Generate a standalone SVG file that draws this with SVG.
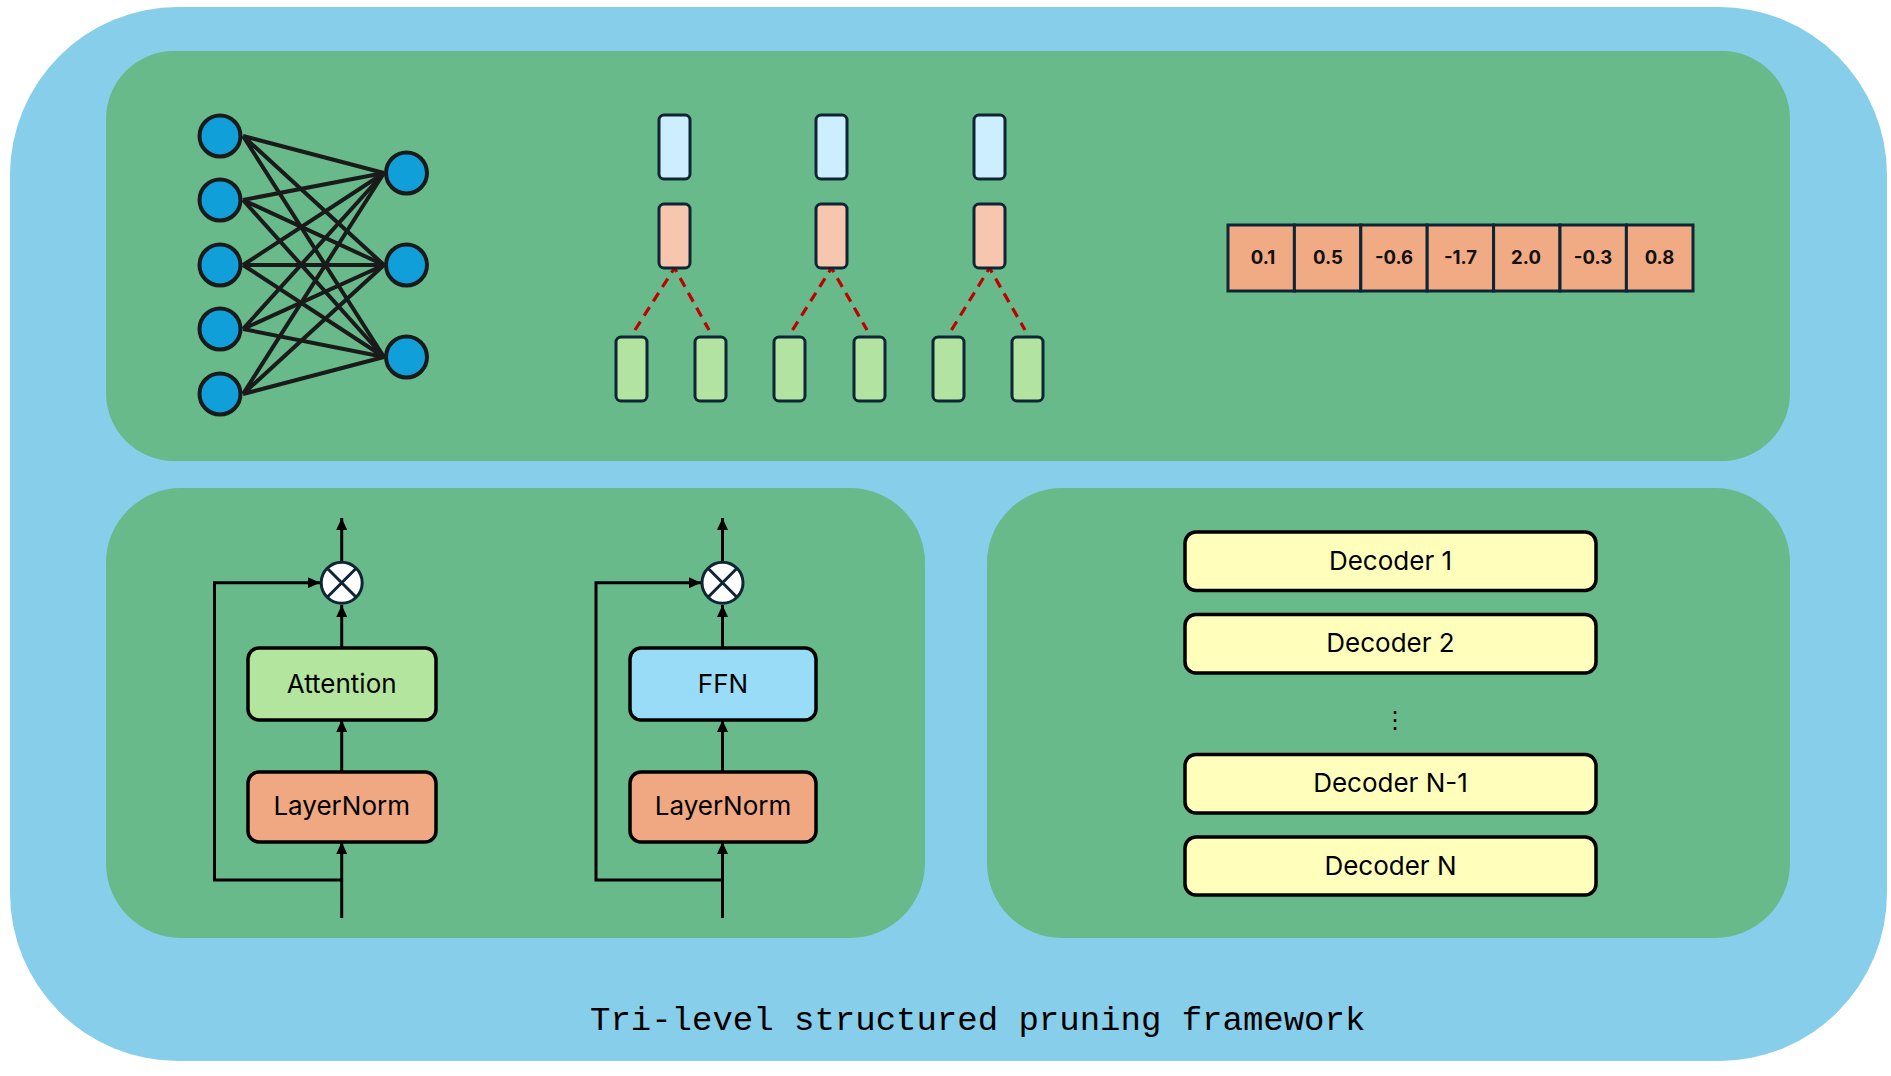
<svg xmlns="http://www.w3.org/2000/svg" width="1891" height="1076" viewBox="0 0 1891 1076">
<defs>
<marker id="ah" viewBox="0 0 12 11" refX="12" refY="5.5" markerWidth="12" markerHeight="11" markerUnits="userSpaceOnUse" orient="auto">
<path d="M0,0 L12,5.5 L0,11 z" fill="#000"/>
</marker>
</defs>
<style>
.panel{fill:#68BA8A}
.nn{fill:#109FD8;stroke:#1a1a1a;stroke-width:4}
.nl{stroke:#1a1a1a;stroke-width:4;fill:none}
.pr{stroke:#0f2536;stroke-width:3}
.blue{fill:#CCEEFF}
.org{fill:#F6C6AE}
.grn{fill:#B3E3A0}
.dash{stroke:#C00000;stroke-width:3.2;stroke-dasharray:10 7;fill:none}
.cell{fill:#F0AA84;stroke:#0f2536;stroke-width:3}
.val{font-family:Inter,"Liberation Sans",sans-serif;font-weight:700;font-size:18.5px;fill:#111;text-anchor:middle}
.box{stroke:#000;stroke-width:3.5}
.lbl{font-family:Inter,"Liberation Sans",sans-serif;font-size:26px;fill:#000;text-anchor:middle}
.conn{stroke:#000;stroke-width:3;fill:none}
.mul{fill:#fff;stroke:#0f2536;stroke-width:3}
.mulx{stroke:#0f2536;stroke-width:3}
.dec{fill:#FFFFBB;stroke:#000;stroke-width:3.5}
</style>
<rect x="10" y="7" width="1877" height="1054" rx="168" ry="168" fill="#87CEEA"/>
<rect class="panel" x="106" y="51" width="1684" height="410" rx="68" ry="68"/>
<rect class="panel" x="106" y="488" width="819" height="450" rx="75" ry="75"/>
<rect class="panel" x="987" y="488" width="803" height="450" rx="75" ry="75"/>

<g id="neural-net">
<g class="nl">
<path d="M243,136 L384,173 M243,136 L384,265 M243,136 L384,357"/>
<path d="M243,200 L384,173 M243,200 L384,265 M243,200 L384,357"/>
<path d="M243,265 L384,173 M243,265 L384,265 M243,265 L384,357"/>
<path d="M243,329 L384,173 M243,329 L384,265 M243,329 L384,357"/>
<path d="M243,394 L384,173 M243,394 L384,265 M243,394 L384,357"/>
</g>
<circle class="nn" cx="220" cy="136" r="20.5"/>
<circle class="nn" cx="220" cy="200" r="20.5"/>
<circle class="nn" cx="220" cy="265" r="20.5"/>
<circle class="nn" cx="220" cy="329" r="20.5"/>
<circle class="nn" cx="220" cy="394" r="20.5"/>
<circle class="nn" cx="406.5" cy="173" r="20.5"/>
<circle class="nn" cx="406.5" cy="265" r="20.5"/>
<circle class="nn" cx="406.5" cy="357" r="20.5"/>
</g>

<g id="head-groups">
<g id="group1">
<path class="dash" d="M635,330 L674.5,268 L709,330"/>
<rect class="pr blue" x="659" y="115" width="31" height="64" rx="5"/>
<rect class="pr org" x="659" y="204" width="31" height="64" rx="5"/>
<rect class="pr grn" x="616" y="337" width="31" height="64" rx="5"/>
<rect class="pr grn" x="695" y="337" width="31" height="64" rx="5"/>
</g>
<g id="group2">
<path class="dash" d="M792.5,330 L831.5,268 L867,330"/>
<rect class="pr blue" x="816" y="115" width="31" height="64" rx="5"/>
<rect class="pr org" x="816" y="204" width="31" height="64" rx="5"/>
<rect class="pr grn" x="774" y="337" width="31" height="64" rx="5"/>
<rect class="pr grn" x="854" y="337" width="31" height="64" rx="5"/>
</g>
<g id="group3">
<path class="dash" d="M951.5,330 L989.5,268 L1025,330"/>
<rect class="pr blue" x="974" y="115" width="31" height="64" rx="5"/>
<rect class="pr org" x="974" y="204" width="31" height="64" rx="5"/>
<rect class="pr grn" x="933" y="337" width="31" height="64" rx="5"/>
<rect class="pr grn" x="1012" y="337" width="31" height="64" rx="5"/>
</g>
</g>

<g id="value-array">
<rect class="cell" x="1228" y="225" width="66.4" height="66"/>
<rect class="cell" x="1294.4" y="225" width="66.4" height="66"/>
<rect class="cell" x="1360.8" y="225" width="66.4" height="66"/>
<rect class="cell" x="1427.2" y="225" width="66.4" height="66"/>
<rect class="cell" x="1493.6" y="225" width="66.4" height="66"/>
<rect class="cell" x="1560" y="225" width="66.4" height="66"/>
<rect class="cell" x="1626.4" y="225" width="66.6" height="66"/>
<text class="val" x="1263" y="264">0.1</text>
<text class="val" x="1328" y="264">0.5</text>
<text class="val" x="1394" y="264">-0.6</text>
<text class="val" x="1460.5" y="264">-1.7</text>
<text class="val" x="1526" y="264">2.0</text>
<text class="val" x="1593" y="264">-0.3</text>
<text class="val" x="1659.5" y="264">0.8</text>
</g>

<g id="connectors">
<line class="conn" x1="341.7" y1="561" x2="341.7" y2="518" marker-end="url(#ah)"/>
<line class="conn" x1="341.7" y1="648" x2="341.7" y2="605" marker-end="url(#ah)"/>
<line class="conn" x1="341.7" y1="772" x2="341.7" y2="720" marker-end="url(#ah)"/>
<line class="conn" x1="341.7" y1="918" x2="341.7" y2="842" marker-end="url(#ah)"/>
<path class="conn" d="M341.7,880 H214.5 V582.7 H320" marker-end="url(#ah)"/>
<line class="conn" x1="722.5" y1="561" x2="722.5" y2="518" marker-end="url(#ah)"/>
<line class="conn" x1="722.5" y1="648" x2="722.5" y2="605" marker-end="url(#ah)"/>
<line class="conn" x1="722.5" y1="772" x2="722.5" y2="720" marker-end="url(#ah)"/>
<line class="conn" x1="722.5" y1="918" x2="722.5" y2="842" marker-end="url(#ah)"/>
<path class="conn" d="M722.5,880 H596 V582.7 H701" marker-end="url(#ah)"/>
</g>

<g id="mul1">
<circle class="mul" cx="341.7" cy="582.7" r="20.5"/>
<path class="mulx" d="M327.2,568.2 L356.2,597.2 M356.2,568.2 L327.2,597.2"/>
</g>
<g id="attention">
<rect class="box" fill="#B3E59F" x="248" y="648" width="188" height="72" rx="11"/>
<text class="lbl" x="341.7" y="693">Attention</text>
</g>
<g id="layernorm1">
<rect class="box" fill="#F0A882" x="248" y="772" width="188" height="70" rx="11"/>
<text class="lbl" x="341.7" y="815">LayerNorm</text>
</g>

<g id="mul2">
<circle class="mul" cx="722.5" cy="582.7" r="20.5"/>
<path class="mulx" d="M708,568.2 L737,597.2 M737,568.2 L708,597.2"/>
</g>
<g id="ffn">
<rect class="box" fill="#98DCF7" x="630" y="648" width="186" height="72" rx="11"/>
<text class="lbl" x="723" y="693">FFN</text>
</g>
<g id="layernorm2">
<rect class="box" fill="#F0A882" x="630" y="772" width="186" height="70" rx="11"/>
<text class="lbl" x="723" y="815">LayerNorm</text>
</g>

<g id="decoder1">
<rect class="dec" x="1185" y="532" width="411" height="58.5" rx="11"/>
<text class="lbl" x="1390.5" y="570">Decoder 1</text>
</g>
<g id="decoder2">
<rect class="dec" x="1185" y="614.5" width="411" height="58.5" rx="11"/>
<text class="lbl" x="1390.5" y="652">Decoder 2</text>
</g>
<g id="ellipsis">
<text x="1395" y="728" font-family="'DejaVu Sans',sans-serif" font-size="24" text-anchor="middle" fill="#000">⋮</text>
</g>
<g id="decoderN-1">
<rect class="dec" x="1185" y="754.5" width="411" height="58.5" rx="11"/>
<text class="lbl" x="1390.5" y="792">Decoder N-1</text>
</g>
<g id="decoderN">
<rect class="dec" x="1185" y="837" width="411" height="58" rx="11"/>
<text class="lbl" x="1390.5" y="874.5">Decoder N</text>
</g>

<text x="590" y="1030" font-family="'Liberation Mono',monospace" font-size="34" fill="#000">Tri-level structured pruning framework</text>
</svg>
